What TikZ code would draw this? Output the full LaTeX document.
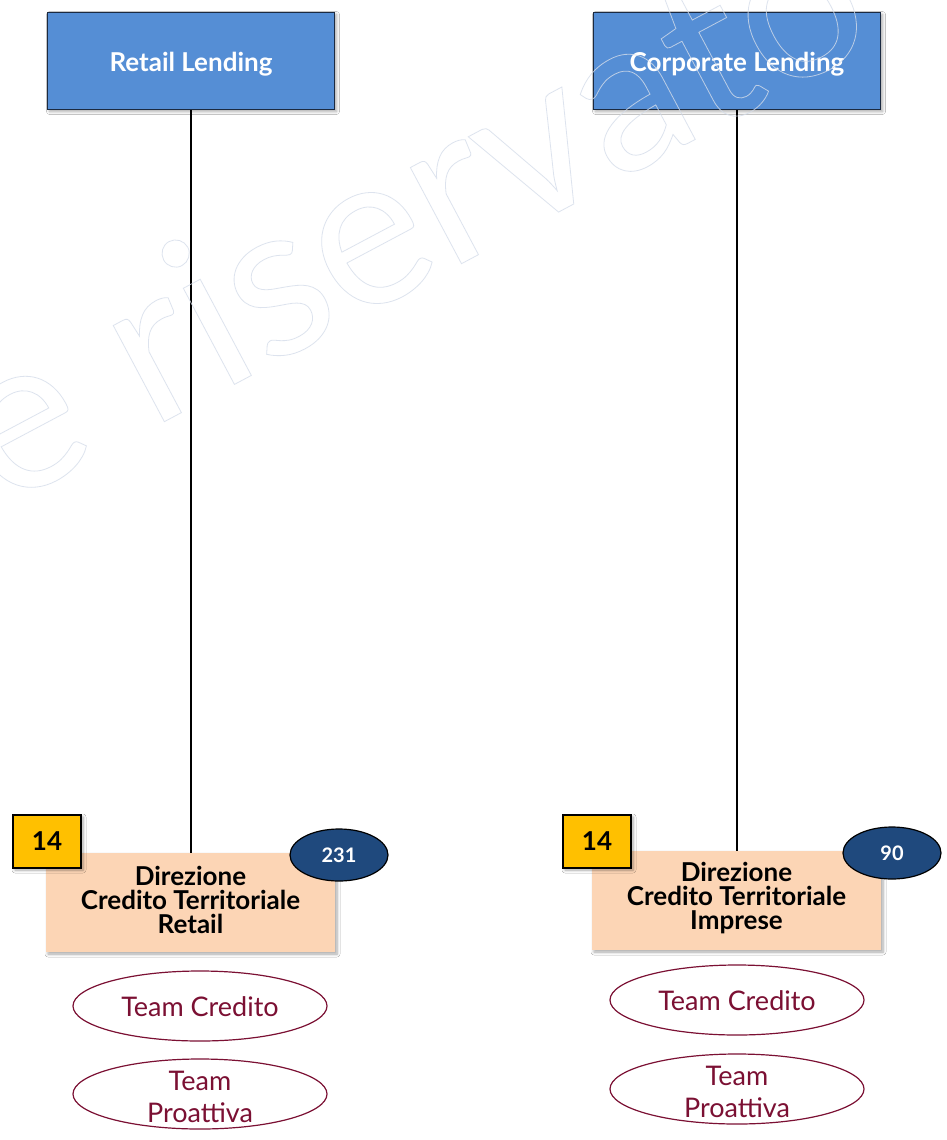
\documentclass[tikz,border=0pt]{standalone}
\usepackage{fontspec}
\setmainfont{Lato}
\usetikzlibrary{shapes.geometric,shadows.blur}
\definecolor{hdrblue}{HTML}{558ED5}
\definecolor{hdrborder}{HTML}{1B2A41}
\definecolor{peach}{HTML}{FCD5B5}
\definecolor{gold}{HTML}{FFC000}
\definecolor{navy}{HTML}{1F497D}
\definecolor{wine}{HTML}{7B1033}
\definecolor{wmark}{HTML}{D5DDEA}
\tikzset{
  shad/.style={blur shadow={shadow xshift=2pt, shadow yshift=-2pt, shadow blur steps=6, shadow blur radius=3pt, shadow opacity=35}},
  hdr/.style={draw=hdrborder, line width=1.5pt, fill=hdrblue, minimum width=287pt, minimum height=97pt, shad},
  hdrtext/.style={inner sep=0pt, text=white, font=\bfseries\fontsize{26}{28}\selectfont},
  dirbox/.style={fill=peach, minimum width=289pt, minimum height=99pt, inner sep=0pt, shad},
  dirtext/.style={align=center, inner sep=0pt, font=\bfseries\fontsize{26}{24}\selectfont},
  numbox/.style={draw=black, line width=1.5pt, fill=gold, minimum width=68pt, minimum height=53pt, inner sep=0pt, font=\bfseries\fontsize{26}{28}\selectfont, shad},
  cnt/.style={ellipse, draw=black, line width=1.2pt, fill=navy, minimum width=98pt, minimum height=52pt, inner sep=0pt, text=white, font=\bfseries\fontsize{20}{22}\selectfont},
  team/.style={ellipse, draw=wine, line width=1.2pt, minimum width=254pt, minimum height=70pt, inner sep=0pt},
  teamtext/.style={inner sep=0pt, text=wine, align=center, font=\fontsize{27}{32}\selectfont},
  conn/.style={draw=black, line width=1.5pt}
}
\begin{document}
\begin{tikzpicture}[x=1pt,y=-1pt]
\useasboundingbox (0,0) rectangle (947,1140);
\fill[white] (0,0) rectangle (947,1140);

\node[hdr] (rl) at (191,61) {};
\node[hdr] (cl) at (737,61) {};
\node[hdrtext] (rlt) at (191,64) {Retail Lending};
\node[hdrtext] (clt) at (737,64) {Corporate Lending};

\node[dirbox] (dl) at (190.5,902.5) {};
\node[dirbox] (dr) at (736.5,900.5) {};
\node[dirtext] (dlt) at (190.5,900) {Direzione\\Credito Territoriale\\Retail};
\node[dirtext] (drt) at (736.5,898) {Direzione\\Credito Territoriale\\Imprese};

\draw[conn] (rl.south) -- (rl.south |- dl.north);
\draw[conn] (cl.south) -- (cl.south |- dr.north);

\node[numbox] (nl) at (47,841.5) {14};
\node[numbox] (nr) at (597,841.5) {14};

\node[cnt] (cl1) at (339,855) {231};
\node[cnt] (cr1) at (892,853) {90};

\node[team] (tcl) at (200,1006) {};
\node[team] (tpl) at (200,1094) {};
\node[team] (tcr) at (737,1000) {};
\node[team] (tpr) at (737,1089) {};
\node[teamtext] (tclt) at (200,1007) {Team Credito};
\node[teamtext] (tplt) at (200,1097) {Team\\Proattiva};
\node[teamtext] (tcrt) at (737,1001) {Team Credito};
\node[teamtext] (tprt) at (737,1092) {Team\\Proattiva};

\node[rotate=28, anchor=base west, inner sep=0pt, text=wmark, opacity=.8, font=\fontsize{215}{215}\selectfont] (wm) at (2,508) {\special{pdf:literal direct 1 Tr 0.8 w}e riservato\special{pdf:literal direct 0 Tr}};
\end{tikzpicture}
\end{document}
